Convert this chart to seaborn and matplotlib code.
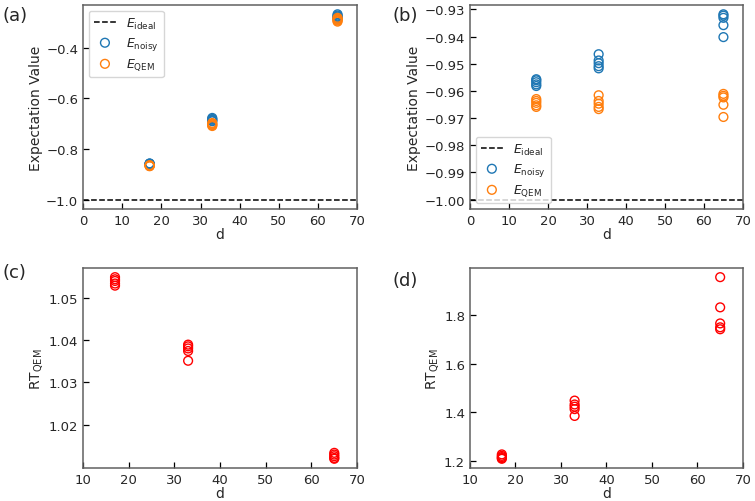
import numpy as np
import pandas as pd
import matplotlib
matplotlib.use("Agg")
import matplotlib.pyplot as plt
import seaborn as sns

sns.set_style("ticks")
plt.rcParams['font.family'] = ['DejaVu Sans']
plt.rcParams['mathtext.fontset'] = 'dejavusans'

d_vals = [17, 33, 65]
E_ideal = -1.0

# panel (a)
a_noisy = {17: [-0.857, -0.858, -0.859, -0.860, -0.861],
           33: [-0.677, -0.681, -0.684, -0.688, -0.690],
           65: [-0.267, -0.272, -0.276, -0.280, -0.284]}
a_qem = {17: [-0.864, -0.865, -0.866, -0.867, -0.868],
         33: [-0.697, -0.700, -0.703, -0.706, -0.709],
         65: [-0.281, -0.285, -0.289, -0.292, -0.296]}

# panel (b)
b_noisy = {17: [-0.9557, -0.9561, -0.9568, -0.9576, -0.9582],
           33: [-0.9465, -0.9488, -0.9498, -0.9509, -0.9517],
           65: [-0.9318, -0.9323, -0.9331, -0.9358, -0.9402]}
b_qem = {17: [-0.9630, -0.9637, -0.9644, -0.9653, -0.9659],
         33: [-0.9616, -0.9637, -0.9647, -0.9659, -0.9667],
         65: [-0.9611, -0.9618, -0.9624, -0.9651, -0.9696]}

# panel (c)
c_rt = {17: [1.0548, 1.0543, 1.0539, 1.0533, 1.0528],
        33: [1.0389, 1.0385, 1.0380, 1.0374, 1.0351],
        65: [1.0134, 1.0130, 1.0126, 1.0122, 1.0120]}

# panel (d)
d_rt = {17: [1.227, 1.221, 1.216, 1.212, 1.209],
        33: [1.448, 1.432, 1.423, 1.413, 1.385],
        65: [1.955, 1.831, 1.765, 1.749, 1.741]}


def to_df(dct):
    xs, ys = [], []
    for k in d_vals:
        for v in dct[k]:
            xs.append(k)
            ys.append(v)
    return pd.DataFrame({"d": xs, "val": ys})


fig = plt.figure(figsize=(7.55, 5.02), dpi=100)
pos = {
    'a': [0.110, 0.582, 0.363, 0.406],
    'b': [0.6225, 0.582, 0.3615, 0.406],
    'c': [0.110, 0.066, 0.363, 0.398],
    'd': [0.6225, 0.066, 0.3615, 0.398],
}
axes = {k: fig.add_axes(v) for k, v in pos.items()}

MS = 40
BLUE = '#1f77b4'
ORANGE = '#ff7f0e'


def style(ax):
    for sp in ax.spines.values():
        sp.set_color('#606060')
        sp.set_linewidth(1.1)
    ax.tick_params(direction='in', length=4, width=0.9, labelsize=9.5, color='black', pad=3.5)


def exp_panel(ax, noisy, qem, loc):
    ax.axhline(E_ideal, ls='--', color='black', lw=1.1, label=r'$E_{\mathrm{ideal}}$')
    sns.scatterplot(data=to_df(noisy), x='d', y='val', ax=ax, marker='o', s=MS,
                    facecolors='none', edgecolor=BLUE, linewidth=1.0,
                    label=r'$E_{\mathrm{noisy}}$')
    sns.scatterplot(data=to_df(qem), x='d', y='val', ax=ax, marker='o', s=MS,
                    facecolors='none', edgecolor=ORANGE, linewidth=1.0,
                    label=r'$E_{\mathrm{QEM}}$')
    ax.set_xlim(0, 70)
    ax.set_xticks(range(0, 71, 10))
    ax.set_xlabel('d', fontsize=10, labelpad=0.5)
    ax.set_ylabel('Expectation Value', fontsize=10, labelpad=2.5)
    ax.legend(loc=loc, fontsize=9, frameon=True, labelspacing=0.35,
              handlelength=1.8, borderaxespad=0.45)
    style(ax)


exp_panel(axes['a'], a_noisy, a_qem, 'upper left')
axes['a'].set_yticks([-1.0, -0.8, -0.6, -0.4])
exp_panel(axes['b'], b_noisy, b_qem, 'lower left')
axes['b'].set_yticks(np.round(np.arange(-1.0, -0.925, 0.01), 2))
axes['b'].yaxis.set_major_formatter(
    matplotlib.ticker.FuncFormatter(lambda v, p: ('%.2f' % v).replace('-', '\u2212')))


def rt_panel(ax, dct):
    sns.scatterplot(data=to_df(dct), x='d', y='val', ax=ax, marker='o', s=MS,
                    facecolors='none', edgecolor='red', linewidth=1.0)
    ax.set_xlim(10, 70)
    ax.set_xticks(range(10, 71, 10))
    ax.set_xlabel('d', fontsize=10, labelpad=0.0)
    ax.set_ylabel(r'$\mathrm{RT}_{\mathrm{QEM}}$', fontsize=10, labelpad=2.5)
    style(ax)


rt_panel(axes['c'], c_rt)
axes['c'].set_yticks([1.02, 1.03, 1.04, 1.05])
rt_panel(axes['d'], d_rt)
axes['d'].set_yticks([1.2, 1.4, 1.6, 1.8])

fig.text(0.003, 0.968, '(a)', fontsize=13, va='center', ha='left')
fig.text(0.520, 0.968, '(b)', fontsize=13, va='center', ha='left')
fig.text(0.003, 0.456, '(c)', fontsize=13, va='center', ha='left')
fig.text(0.520, 0.440, '(d)', fontsize=13, va='center', ha='left')

fig.savefig('out.png', dpi=100)
